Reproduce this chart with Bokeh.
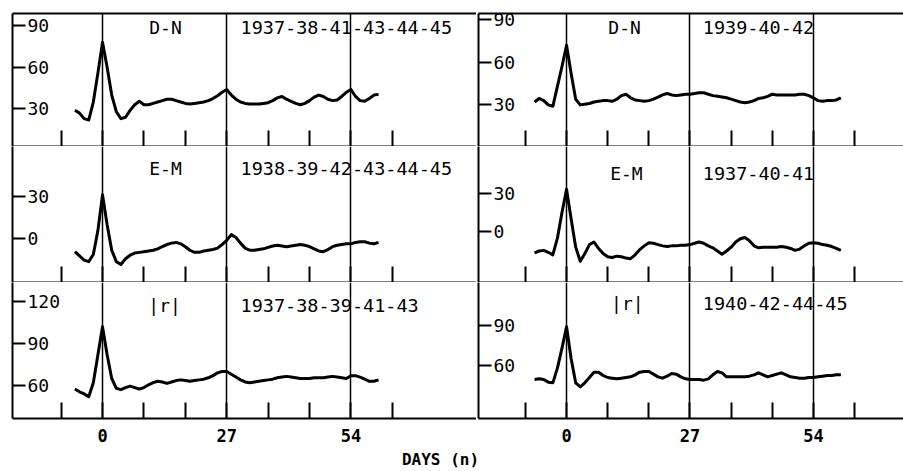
from bokeh.plotting import figure
from bokeh.layouts import gridplot, column
from bokeh.models import Range1d, FixedTicker, LinearAxis
from bokeh.core.properties import value
from bokeh.embed import file_html
from bokeh.resources import INLINE

# ---------------- data ----------------
days_left = list(range(-6, 61))
days_right = list(range(-7, 61))

dn_left = [29, 27, 23, 22, 35, 56, 78, 60, 40, 28, 23, 24, 29, 33, 35.5, 33, 33, 34, 35, 36,
           37, 37, 36, 35, 34, 33.5, 34, 34.5, 35, 36, 37.5, 39.5, 42, 44, 40, 37, 35, 34,
           33.5, 33.5, 33.5, 34, 34.5, 36, 38, 39, 37, 35.5, 34, 33, 34, 36, 38.5, 40, 39,
           37, 36, 36.5, 39, 42, 44, 39, 36, 35.5, 37.5, 40, 40.5]
dn_right = [32, 34.5, 33, 30, 29, 43, 57, 72, 52, 34, 30, 30.5, 31, 32, 32.5, 33, 33, 32.5,
            34, 36.5, 37.5, 35, 33.5, 33, 32.5, 33, 34, 35.5, 37, 38, 37, 36.5, 37, 37.5,
            37.5, 38, 38.5, 38.5, 37.5, 36.5, 36, 35.5, 35, 34, 33, 32, 31.5, 32, 33, 34.5,
            35, 36, 37.5, 37, 37, 37, 37, 37, 37.5, 37.5, 36.5, 35, 33, 32.5, 33, 33, 33.5, 35]
em_left = [-9, -12, -15, -16, -11, 6, 31, 10, -8, -16, -18, -14, -11.5, -10, -9.5, -9, -8.5,
           -8, -7, -5.5, -4, -3, -2.5, -3.5, -5.5, -8, -9.5, -9.5, -8.5, -8, -7.5, -6.5, -4,
           -1, 3, 1, -3, -6.5, -8, -8, -7.5, -7, -6, -5, -4.5, -5, -5.5, -5, -4.5, -4, -4.5,
           -5.5, -7, -8.5, -9, -7.5, -5.5, -4.5, -4, -3.5, -3.5, -2.5, -2, -2, -3, -3.5, -2.5]
em_right = [-16.5, -15, -14.5, -16, -18, -5, 15, 33, 10, -12, -23, -17, -10, -8, -13, -17,
            -19.5, -20, -19, -19.5, -20.5, -21, -18, -14, -11, -8.5, -9, -10, -11, -11.5, -11,
            -11, -10.5, -10.5, -10, -9, -8, -9, -11, -12.5, -15, -17.5, -15, -12, -8, -5.5,
            -4.5, -7, -11, -12.5, -12, -12, -12, -12, -11.5, -12, -13, -14.5, -13.5, -11, -9,
            -8.5, -9, -10, -10.5, -11.5, -13, -14.5]
r_left = [57.5, 55.5, 54, 52, 62, 82, 102, 82, 65, 58, 57, 58.5, 59.5, 58.5, 57.5, 58.5, 60.5,
          62, 63, 62.5, 61.5, 62.5, 63.5, 64, 63.5, 63, 63.5, 64, 64.5, 65.5, 67, 69, 70, 70,
          68, 66, 64, 62.5, 62, 62.5, 63, 63.5, 64, 64.5, 65.5, 66, 66.5, 66, 65.5, 65, 65,
          65, 65.5, 65.5, 65.5, 66, 66.5, 66, 65.5, 65, 67, 67, 66, 64.5, 63, 63, 64]
r_right = [49.5, 50, 49.5, 47.5, 47, 58, 73, 89, 65, 47, 44, 47, 51, 55, 55, 52.5, 51, 50.5,
           50, 50.5, 51, 51.5, 53, 55, 55.5, 55.5, 53.5, 51.5, 50.5, 52, 54, 53.5, 51.5, 50,
           49.5, 49.5, 49.5, 49, 50, 53, 55.5, 54.5, 51.5, 51.5, 51.5, 51.5, 51.5, 52, 53,
           54.5, 53, 51.5, 52.5, 53.5, 54.5, 53, 51.5, 51, 50.5, 50.5, 51, 51, 51.5, 52, 52.5,
           52.5, 53, 53]

x_ticks = [-9, 0, 9, 18, 27, 36, 45, 54, 63]
x_labels = {0: "0", 27: "27", 54: "54"}
epoch_lines = [0, 27, 54]

names = [["D-N", "D-N"], ["E-M", "E-M"], ["|r|", "|r|"]]
years = [["1937-38-41-43-44-45", "1939-40-42"],
         ["1938-39-42-43-44-45", "1937-40-41"],
         ["1937-38-39-41-43", "1940-42-44-45"]]
y_ticks = [[[30, 60, 90], [30, 60, 90]],
           [[0, 30], [0, 30]],
           [[60, 90, 120], [60, 90]]]
x_title = "DAYS (n)"

# ---------------- layout ----------------
FONT = "DejaVu Sans Mono"
x_ranges = [(-19.57, 81.3), (-19.26, 73.7)]
y_ranges = [[(2.93, 98.8), (0.71, 94.3)],
            [(-30.7, 65.0), (-39.5, 66.3)],
            [(36.4, 133.6), (20.25, 122.25)]]
name_pos = [[(13.7, 88.6), (12.7, 84.3)],
            [(13.7, 49.3), (13.1, 45.5)],
            [(13.5, 117.0), (13.3, 106.5)]]
year_pos = [[(30.0, 88.6), (29.8, 84.3)],
            [(30.0, 49.3), (29.8, 45.5)],
            [(30.0, 117.0), (29.8, 106.5)]]
widths = [476, 427]
heights = [146, 136, 166]
series = [[(days_left, dn_left), (days_right, dn_right)],
          [(days_left, em_left), (days_right, em_right)],
          [(days_left, r_left), (days_right, r_right)]]


def make_panel(r, c):
    bottom = (r == 2)
    p = figure(width=widths[c], height=heights[r],
               x_range=Range1d(*x_ranges[c]), y_range=Range1d(*y_ranges[r][c]),
               output_backend="svg", toolbar_location=None, tools="",
               min_border_left=12 if c == 0 else 2, min_border_right=0,
               min_border_top=13 if r == 0 else 0,
               min_border_bottom=30 if bottom else 0)
    p.outline_line_color = None
    p.background_fill_color = "white"
    p.border_fill_color = "white"
    p.ygrid.visible = False
    p.xgrid.ticker = FixedTicker(ticks=epoch_lines)
    p.xgrid.grid_line_color = "black"
    p.xgrid.grid_line_width = 1.5

    xa = p.xaxis[0]
    xa.ticker = FixedTicker(ticks=x_ticks)
    xa.major_tick_in = 16
    xa.major_tick_out = 0
    xa.minor_tick_line_color = None
    xa.axis_line_width = 2
    xa.major_tick_line_width = 2
    if bottom:
        xa.major_label_overrides = {t: x_labels.get(t, "") for t in x_ticks}
        xa.major_label_text_font = FONT
        xa.major_label_text_font_style = "bold"
        xa.major_label_text_font_size = "17px"
        xa.major_label_text_color = "black"
        xa.major_label_standoff = 10
    else:
        xa.major_label_overrides = {t: "" for t in x_ticks}
        xa.major_label_text_font_size = "0px"
        xa.major_label_standoff = 0

    ya = p.yaxis[0]
    ya.ticker = FixedTicker(ticks=y_ticks[r][c])
    ya.major_tick_in = 13
    ya.major_tick_out = 0
    ya.minor_tick_line_color = None
    ya.axis_line_width = 2
    ya.major_tick_line_width = 2
    ya.major_label_overrides = {t: "" for t in y_ticks[r][c]}
    ya.major_label_text_font_size = "0px"
    ya.major_label_standoff = 0

    if r == 0:
        top = LinearAxis(ticker=FixedTicker(ticks=[]), major_label_text_font_size="0px",
                         major_label_standoff=0, major_tick_in=0, major_tick_out=0,
                         minor_tick_line_color=None, axis_line_width=2)
        p.add_layout(top, "above")

    d, v = series[r][c]
    p.line(d, v, line_width=3, line_color="black", line_join="round")

    yt = y_ticks[r][c]
    p.text(x=[x_ranges[c][0]] * len(yt), y=yt, text=[str(t) for t in yt],
           x_offset=15, text_align="left", text_baseline="middle",
           text_font=value(FONT), text_font_size="18px", text_color="black")
    nx, ny = name_pos[r][c]
    p.text(x=[nx], y=[ny], text=[names[r][c]], text_align="center", text_baseline="middle",
           text_font=value(FONT), text_font_size="18px", text_color="black")
    yx, yy = year_pos[r][c]
    p.text(x=[yx], y=[yy], text=[years[r][c]], text_align="left", text_baseline="middle",
           text_font=value(FONT), text_font_size="18.5px", text_color="black")
    return p


rows = [[make_panel(r, c) for c in range(2)] for r in range(3)]
grid = gridplot(rows, toolbar_location=None)

# caption strip holding the shared x-axis title
cap = figure(width=903, height=23, x_range=Range1d(0, 903), y_range=Range1d(0, 23),
             output_backend="svg", toolbar_location=None, tools="",
             min_border=0)
cap.axis.visible = False
cap.grid.visible = False
cap.outline_line_color = None
cap.text(x=[440], y=[12], text=[x_title], text_align="center", text_baseline="middle",
         text_font=value(FONT), text_font_style="bold", text_font_size="16px",
         text_color="black")

layout = column(grid, cap, spacing=0)
open("out.html", "w").write(file_html(layout, INLINE))
